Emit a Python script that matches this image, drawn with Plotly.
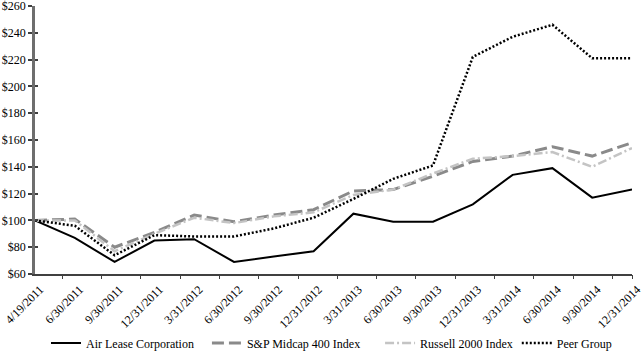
import plotly.graph_objects as go

dates = ["4/19/2011", "6/30/2011", "9/30/2011", "12/31/2011", "3/31/2012", "6/30/2012",
         "9/30/2012", "12/31/2012", "3/31/2013", "6/30/2013", "9/30/2013", "12/31/2013",
         "3/31/2014", "6/30/2014", "9/30/2014", "12/31/2014"]
air_lease = [100, 87, 69, 85, 86, 69, 73, 77, 105, 99, 99, 112, 134, 139, 117, 123]
sp_midcap = [100, 101, 80, 91, 104, 99, 104, 108, 122, 123, 133, 144, 148, 155, 148, 158]
russell = [100, 100, 77, 90, 102, 98, 103, 106, 119, 123, 135, 146, 148, 151, 140, 154]
peer = [100, 96, 74, 89, 88, 88, 94, 102, 116, 131, 141, 222, 237, 246, 221, 221]
y_ticks = [60, 80, 100, 120, 140, 160, 180, 200, 220, 240, 260]

xi = list(range(len(dates)))
font = "Liberation Serif, Times New Roman, serif"

fig = go.Figure()
fig.add_trace(go.Scatter(x=xi, y=air_lease, name="Air Lease Corporation", mode="lines",
                         line=dict(color="#000000", width=2), legend="legend"))
fig.add_trace(go.Scatter(x=xi, y=sp_midcap, name="S&P Midcap 400 Index", mode="lines",
                         line=dict(color="#8a8a8a", width=3, dash="12px,5px"), legend="legend2"))
fig.add_trace(go.Scatter(x=xi, y=russell, name="Russell 2000 Index", mode="lines",
                         line=dict(color="#c4c4c4", width=2.5, dash="9px,3px,2px,3px"),
                         legend="legend3"))
fig.add_trace(go.Scatter(x=xi, y=peer, name="Peer Group", mode="lines",
                         line=dict(color="#000000", width=2.5, dash="2px,2px"), legend="legend4"))
# invisible trace to host the overlay axes used for tick marks
fig.add_trace(go.Scatter(x=[0], y=[60], xaxis="x2", yaxis="y2", mode="lines",
                         showlegend=False, hoverinfo="skip", line=dict(width=0)))

tick_marks = [0.68 + k * 0.988 for k in range(15)] + [15]

def leg(x):
    return dict(orientation="h", x=x, xanchor="left", y=-0.257, yanchor="middle",
                font=dict(family=font, size=12, color="black"),
                bgcolor="rgba(0,0,0,0)", borderwidth=0)

fig.update_layout(
    width=642, height=357,
    margin=dict(l=35, r=10, t=6, b=83, autoexpand=False),
    plot_bgcolor="white", paper_bgcolor="white",
    font=dict(family=font, size=12, color="black"),
    xaxis=dict(range=[0, 15], tickvals=xi, ticktext=dates, tickangle=-45, ticks="",
               showgrid=False, zeroline=False, showline=True, linecolor="#404040",
               linewidth=1.5, automargin=False, ticklabeloverflow="allow",
               ticklabelshift=5, ticklabelstandoff=2,
               tickfont=dict(family=font, size=12, color="black")),
    xaxis2=dict(range=[0, 15], overlaying="x", anchor="y", side="bottom",
                tickvals=tick_marks, ticks="outside", ticklen=4, tickwidth=1,
                tickcolor="#404040", showticklabels=False, showgrid=False,
                zeroline=False, showline=False, automargin=False),
    yaxis=dict(range=[60, 260], tickvals=y_ticks, ticktext=["$%d" % v for v in y_ticks],
               ticks="outside", ticklen=4, tickwidth=1.5, tickcolor="#404040",
               showgrid=False, zeroline=False, showline=True, linecolor="#6e6e6e",
               linewidth=2.5, automargin=False, ticklabeloverflow="allow",
               tickfont=dict(family=font, size=12, color="black")),
    yaxis2=dict(range=[60, 260], tickvals=y_ticks, overlaying="y",
                anchor="x", side="left", ticks="inside", ticklen=3, tickwidth=1.5,
                tickcolor="#404040", showticklabels=False, showgrid=False,
                zeroline=False, showline=False, automargin=False),
    legend=leg(0.0184),
    legend2=leg(0.288),
    legend3=leg(0.578),
    legend4=leg(0.807),
    showlegend=True,
)

fig.write_html("out.html", config={"displayModeBar": False},
               post_script="document.body.style.margin='0';")
